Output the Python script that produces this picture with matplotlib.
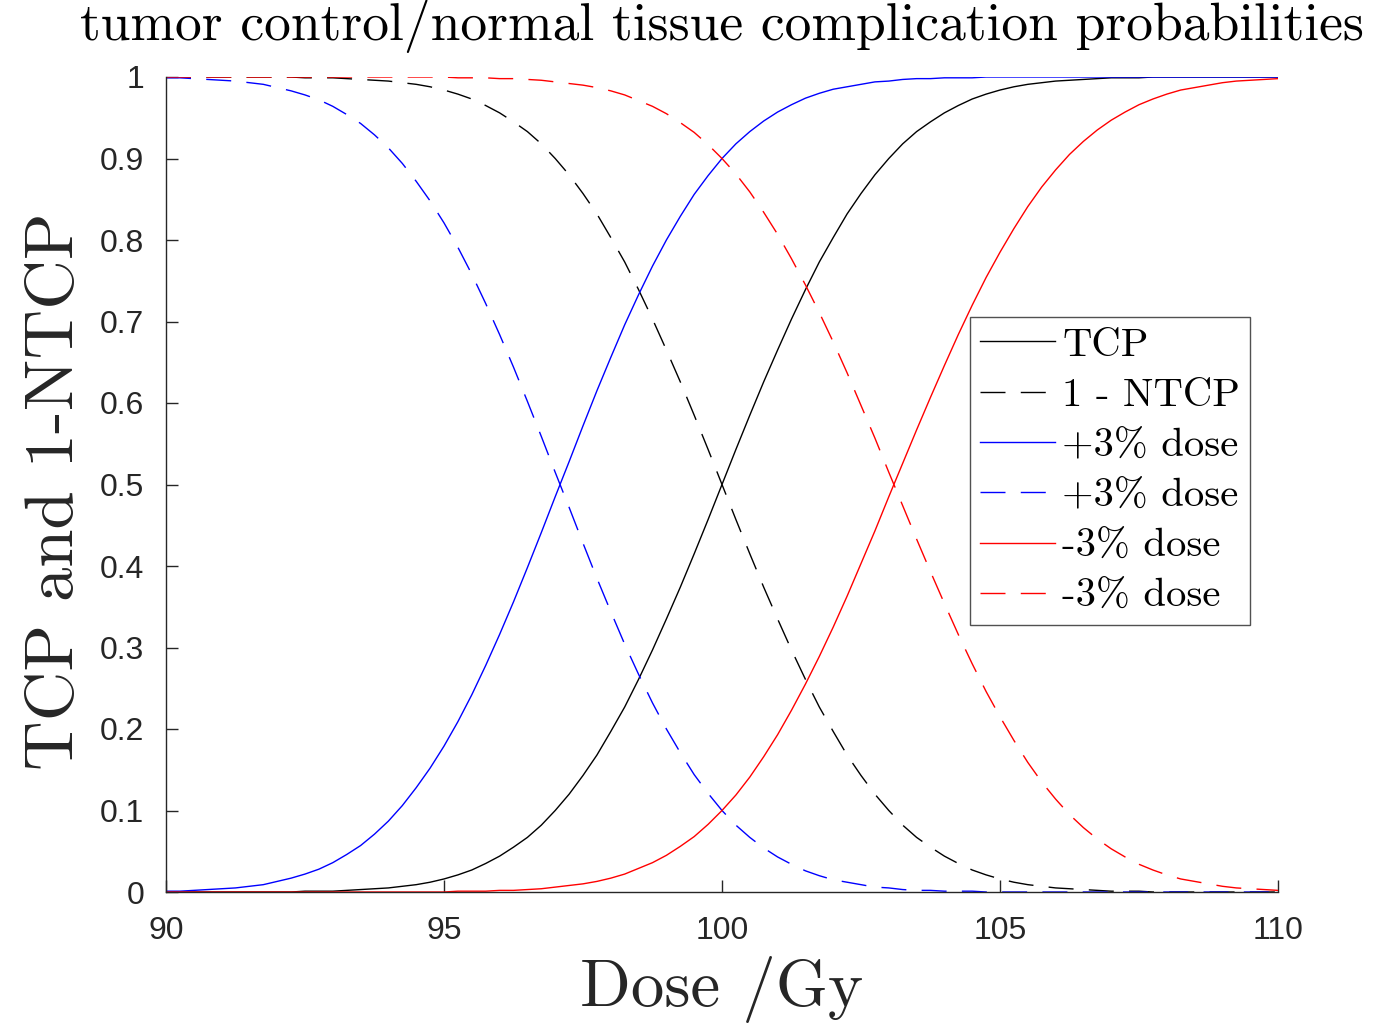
import numpy as np
import matplotlib
matplotlib.use("Agg")
import matplotlib.pyplot as plt

# ---------------- data ----------------
dose = [90.00, 90.25, 90.50, 90.75, 91.00, 91.25, 91.50, 91.75, 92.00, 92.25,
        92.50, 92.75, 93.00, 93.25, 93.50, 93.75, 94.00, 94.25, 94.50, 94.75,
        95.00, 95.25, 95.50, 95.75, 96.00, 96.25, 96.50, 96.75, 97.00, 97.25,
        97.50, 97.75, 98.00, 98.25, 98.50, 98.75, 99.00, 99.25, 99.50, 99.75,
        100.00, 100.25, 100.50, 100.75, 101.00, 101.25, 101.50, 101.75, 102.00, 102.25,
        102.50, 102.75, 103.00, 103.25, 103.50, 103.75, 104.00, 104.25, 104.50, 104.75,
        105.00, 105.25, 105.50, 105.75, 106.00, 106.25, 106.50, 106.75, 107.00, 107.25,
        107.50, 107.75, 108.00, 108.25, 108.50, 108.75, 109.00, 109.25, 109.50, 109.75,
        110.00]

tcp = [0.000, 0.000, 0.000, 0.000, 0.000, 0.000, 0.000, 0.000, 0.000, 0.000,
       0.001, 0.001, 0.001, 0.002, 0.003, 0.004, 0.005, 0.007, 0.009, 0.012,
       0.016, 0.021, 0.027, 0.035, 0.044, 0.055, 0.067, 0.082, 0.100, 0.120,
       0.143, 0.168, 0.197, 0.227, 0.261, 0.297, 0.335, 0.374, 0.415, 0.457,
       0.500, 0.543, 0.585, 0.626, 0.665, 0.703, 0.739, 0.773, 0.803, 0.832,
       0.857, 0.880, 0.900, 0.918, 0.933, 0.945, 0.956, 0.965, 0.973, 0.979,
       0.984, 0.988, 0.991, 0.993, 0.995, 0.996, 0.997, 0.998, 0.999, 0.999,
       0.999, 1.000, 1.000, 1.000, 1.000, 1.000, 1.000, 1.000, 1.000, 1.000,
       1.000]

one_minus_ntcp = [1.000, 1.000, 1.000, 1.000, 1.000, 1.000, 1.000, 1.000, 1.000, 1.000,
                  0.999, 0.999, 0.999, 0.998, 0.997, 0.996, 0.995, 0.993, 0.991, 0.988,
                  0.984, 0.979, 0.973, 0.965, 0.956, 0.945, 0.933, 0.918, 0.900, 0.880,
                  0.857, 0.832, 0.803, 0.773, 0.739, 0.703, 0.665, 0.626, 0.585, 0.543,
                  0.500, 0.457, 0.415, 0.374, 0.335, 0.297, 0.261, 0.227, 0.197, 0.168,
                  0.143, 0.120, 0.100, 0.082, 0.067, 0.055, 0.044, 0.035, 0.027, 0.021,
                  0.016, 0.012, 0.009, 0.007, 0.005, 0.004, 0.003, 0.002, 0.001, 0.001,
                  0.001, 0.000, 0.000, 0.000, 0.000, 0.000, 0.000, 0.000, 0.000, 0.000,
                  0.000]

tcp_plus3 = [0.001, 0.001, 0.002, 0.003, 0.004, 0.005, 0.007, 0.009, 0.013, 0.017,
             0.022, 0.028, 0.036, 0.046, 0.057, 0.071, 0.087, 0.106, 0.128, 0.152,
             0.179, 0.209, 0.242, 0.278, 0.316, 0.356, 0.398, 0.441, 0.485, 0.528,
             0.572, 0.615, 0.656, 0.696, 0.733, 0.768, 0.800, 0.829, 0.856, 0.879,
             0.900, 0.918, 0.933, 0.946, 0.957, 0.966, 0.974, 0.980, 0.985, 0.988,
             0.991, 0.994, 0.995, 0.997, 0.998, 0.998, 0.999, 0.999, 0.999, 1.000,
             1.000, 1.000, 1.000, 1.000, 1.000, 1.000, 1.000, 1.000, 1.000, 1.000,
             1.000, 1.000, 1.000, 1.000, 1.000, 1.000, 1.000, 1.000, 1.000, 1.000,
             1.000]

ntcp_plus3 = [0.999, 0.999, 0.998, 0.997, 0.996, 0.995, 0.993, 0.991, 0.987, 0.983,
              0.978, 0.972, 0.964, 0.954, 0.943, 0.929, 0.913, 0.894, 0.872, 0.848,
              0.821, 0.791, 0.758, 0.722, 0.684, 0.644, 0.602, 0.559, 0.515, 0.472,
              0.428, 0.385, 0.344, 0.304, 0.267, 0.232, 0.200, 0.171, 0.144, 0.121,
              0.100, 0.082, 0.067, 0.054, 0.043, 0.034, 0.026, 0.020, 0.015, 0.012,
              0.009, 0.006, 0.005, 0.003, 0.002, 0.002, 0.001, 0.001, 0.001, 0.000,
              0.000, 0.000, 0.000, 0.000, 0.000, 0.000, 0.000, 0.000, 0.000, 0.000,
              0.000, 0.000, 0.000, 0.000, 0.000, 0.000, 0.000, 0.000, 0.000, 0.000,
              0.000]

tcp_minus3 = [0.000, 0.000, 0.000, 0.000, 0.000, 0.000, 0.000, 0.000, 0.000, 0.000,
              0.000, 0.000, 0.000, 0.000, 0.000, 0.000, 0.000, 0.000, 0.000, 0.000,
              0.000, 0.001, 0.001, 0.001, 0.002, 0.002, 0.003, 0.004, 0.006, 0.008,
              0.010, 0.013, 0.017, 0.022, 0.029, 0.036, 0.045, 0.056, 0.068, 0.083,
              0.100, 0.119, 0.141, 0.166, 0.193, 0.223, 0.255, 0.289, 0.325, 0.363,
              0.403, 0.443, 0.485, 0.526, 0.567, 0.607, 0.646, 0.684, 0.720, 0.754,
              0.785, 0.814, 0.841, 0.865, 0.886, 0.905, 0.921, 0.935, 0.947, 0.957,
              0.966, 0.973, 0.979, 0.984, 0.987, 0.990, 0.993, 0.995, 0.996, 0.997,
              0.998]

ntcp_minus3 = [1.000, 1.000, 1.000, 1.000, 1.000, 1.000, 1.000, 1.000, 1.000, 1.000,
               1.000, 1.000, 1.000, 1.000, 1.000, 1.000, 1.000, 1.000, 1.000, 1.000,
               1.000, 0.999, 0.999, 0.999, 0.998, 0.998, 0.997, 0.996, 0.994, 0.992,
               0.990, 0.987, 0.983, 0.978, 0.971, 0.964, 0.955, 0.944, 0.932, 0.917,
               0.900, 0.881, 0.859, 0.834, 0.807, 0.777, 0.745, 0.711, 0.675, 0.637,
               0.597, 0.557, 0.515, 0.474, 0.433, 0.393, 0.354, 0.316, 0.280, 0.246,
               0.215, 0.186, 0.159, 0.135, 0.114, 0.095, 0.079, 0.065, 0.053, 0.043,
               0.034, 0.027, 0.021, 0.016, 0.013, 0.010, 0.007, 0.005, 0.004, 0.003,
               0.002]

labels = ["TCP", "1 - NTCP", "+3% dose", "+3% dose", "-3% dose", "-3% dose"]
xticks = [90, 95, 100, 105, 110]
yticks = [0, 0.1, 0.2, 0.3, 0.4, 0.5, 0.6, 0.7, 0.8, 0.9, 1]
yticklabels = ["0", "0.1", "0.2", "0.3", "0.4", "0.5", "0.6", "0.7", "0.8", "0.9", "1"]

# ---------------- figure ----------------
W, H = 1373, 1023
fig = plt.figure(figsize=(W / 100, H / 100), dpi=100)
ax_l, ax_r, ax_t, ax_b = 166, 1278, 77, 892
ax = fig.add_axes([ax_l / W, 1 - ax_b / H, (ax_r - ax_l) / W, (ax_b - ax_t) / H])

axis_col = "#262626"
dash = (0, (18, 11))
lw = 1.0
series = [
    (tcp, "black", "-"),
    (one_minus_ntcp, "black", dash),
    (tcp_plus3, "blue", "-"),
    (ntcp_plus3, "blue", dash),
    (tcp_minus3, "red", "-"),
    (ntcp_minus3, "red", dash),
]
for (vals, col, ls), lab in zip(series, labels):
    ax.plot(dose, vals, color=col, linestyle=ls, linewidth=lw, label=lab)

ax.set_xlim(90, 110)
ax.set_ylim(0, 1)
ax.margins(0)
for s in ["top", "right"]:
    ax.spines[s].set_visible(False)
for s in ["left", "bottom"]:
    ax.spines[s].set_color(axis_col)
    ax.spines[s].set_linewidth(1.0)

ax.set_xticks(xticks)
ax.set_xticklabels([str(t) for t in xticks])
ax.set_yticks(yticks)
ax.set_yticklabels(yticklabels)
ax.tick_params(direction="in", length=8.6, width=1.0, color=axis_col,
               labelcolor=axis_col, labelsize=23)
ax.tick_params(axis="y", pad=15.6)
ax.tick_params(axis="x", pad=17.6)
for lab in ax.get_xticklabels() + ax.get_yticklabels():
    lab.set_fontfamily(["Liberation Sans", "DejaVu Sans"])

serif = ["cmr10", "DejaVu Serif"]
ax.set_title("tumor control/normal tissue complication probabilities",
             fontsize=38.5, family=serif, pad=26.6, color="black")
xl = ax.set_xlabel("Dose /Gy", fontsize=48, family=serif, color=axis_col)
xl.set_va("baseline")
ax.xaxis.set_label_coords(0.5, -(1006 - ax_b) / (ax_b - ax_t))
yl = ax.set_ylabel("TCP and 1-NTCP", fontsize=49.5, family=serif, color=axis_col)
ax.yaxis.set_label_coords((86 - ax_l) / (ax_r - ax_l), (ax_b - 491) / (ax_b - ax_t))

leg = ax.legend(loc="upper left", bbox_to_anchor=(970 / W, 1 - 317 / H),
                bbox_transform=fig.transFigure, borderaxespad=0,
                prop={"family": serif, "size": 29.3}, frameon=True, fancybox=False,
                handlelength=1.84, handletextpad=0.18, labelspacing=0.34,
                borderpad=0.25)
leg.get_frame().set_edgecolor(axis_col)
leg.get_frame().set_linewidth(1.0)

fig.savefig("out.png", dpi=100)
